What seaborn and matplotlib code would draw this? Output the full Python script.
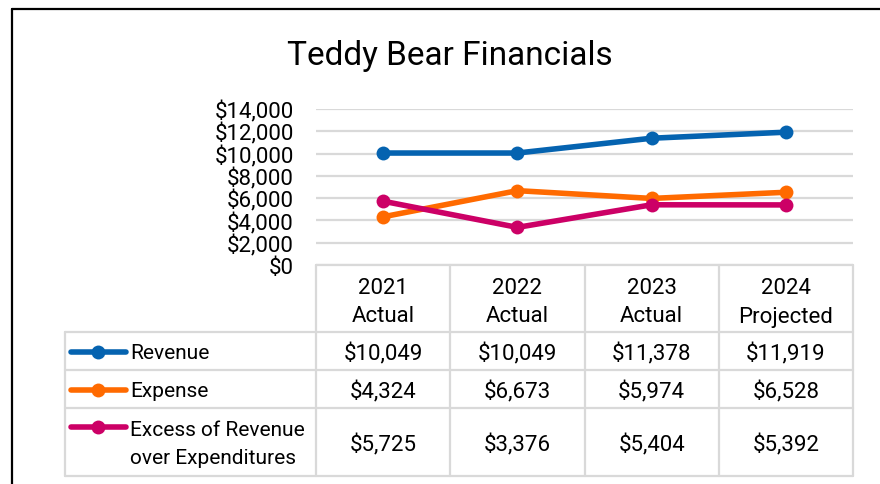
import matplotlib
matplotlib.use("Agg")
import matplotlib.pyplot as plt
from matplotlib.lines import Line2D
import seaborn as sns
import pandas as pd

categories = ["2021\nActual", "2022\nActual", "2023\nActual", "2024\nProjected"]
series_names = ["Revenue", "Expense", "Excess of Revenue\nover Expenditures"]
revenue = [10049, 10049, 11378, 11919]
expense = [4324, 6673, 5974, 6528]
excess = [5725, 3376, 5404, 5392]
colors = ["#0563B0", "#FF6A00", "#CC0066"]
yticks = [0, 2000, 4000, 6000, 8000, 10000, 12000, 14000]
title = "Teddy Bear Financials"

sns.set_theme(style="white")
plt.rcParams["font.family"] = ["Roboto", "DejaVu Sans"]

W, H = 880, 485
fig = plt.figure(figsize=(W / 100, H / 100), dpi=100)

def fx(px):
    return px / W

def fy(py):
    return 1 - py / H

x_left, x_right = 316, 853
y_top, y_zero = 110, 266
ax = fig.add_axes([fx(x_left), fy(y_zero), fx(x_right) - fx(x_left), (y_zero - y_top) / H])

rows = []
for name, vals in zip(series_names, [revenue, expense, excess]):
    for i, v in enumerate(vals):
        rows.append({"x": i, "value": v, "series": name})
df = pd.DataFrame(rows)

sns.lineplot(data=df, x="x", y="value", hue="series", palette=colors,
             marker="o", markersize=10, markeredgewidth=0, linewidth=4,
             ax=ax, legend=False, sort=False)

fs = 16
ax.set_xlim(-0.5, 3.5)
ax.set_ylim(0, 14000)
ax.set_yticks(yticks)
ax.set_yticklabels([f"${v:,}" for v in yticks], fontsize=fs, color="black")
ax.tick_params(axis="y", length=0, pad=16)
ax.set_xticks([])
ax.set_xlabel("")
ax.set_ylabel("")
ax.grid(axis="y", color="#D9D9D9", linewidth=1.6)
ax.set_axisbelow(True)
for s in ax.spines.values():
    s.set_visible(False)

# frame
fig.add_artist(Line2D([fx(12), fx(12)], [fy(10), fy(490)], color="black", linewidth=1.6))
fig.add_artist(Line2D([fx(12), fx(890)], [fy(10), fy(10)], color="black", linewidth=1.6))

fig.text(fx(450), fy(56), title, ha="center", va="center", fontsize=24, color="black")

# data table
gc = "#D9D9D9"
lw = 1.6
col_edges = [x_left + (x_right - x_left) * k / 4 for k in range(5)]
row_edges = [266, 333, 371, 409, 477]
tbl_left = 65

def hline(x0, x1, y):
    fig.add_artist(Line2D([fx(x0), fx(x1)], [fy(y), fy(y)], color=gc, linewidth=lw))

def vline(x, y0, y1):
    fig.add_artist(Line2D([fx(x), fx(x)], [fy(y0), fy(y1)], color=gc, linewidth=lw))

hline(x_left, x_right, row_edges[0])
for y in row_edges[1:]:
    hline(tbl_left, x_right, y)
for x in col_edges:
    vline(x, row_edges[0], row_edges[-1])
vline(tbl_left, row_edges[1], row_edges[-1])

for k, cat in enumerate(categories):
    cx = (col_edges[k] + col_edges[k + 1]) / 2
    fig.text(fx(cx), fy((row_edges[0] + row_edges[1]) / 2 + 3), cat, ha="center", va="center",
             fontsize=fs, linespacing=1.5, color="black")

for r, (name, vals, c) in enumerate(zip(series_names, [revenue, expense, excess], colors)):
    cy = (row_edges[r + 1] + row_edges[r + 2]) / 2 + 2
    for k, v in enumerate(vals):
        cx = (col_edges[k] + col_edges[k + 1]) / 2
        fig.text(fx(cx), fy(cy), f"${v:,}", ha="center", va="center", fontsize=fs, color="black")
    ly = row_edges[r + 1] + 19 if "\n" in name else cy - 1
    fig.add_artist(Line2D([fx(71), fx(126)], [fy(ly), fy(ly)], color=c, linewidth=4,
                          solid_capstyle="round"))
    fig.add_artist(Line2D([fx(98)], [fy(ly)], color=c, marker="o", markersize=10,
                          markeredgewidth=0, linestyle="none"))
    fig.text(fx(130), fy(cy), name, ha="left", va="center", fontsize=15,
             linespacing=1.6, color="black")

fig.savefig("out.png", dpi=100)
